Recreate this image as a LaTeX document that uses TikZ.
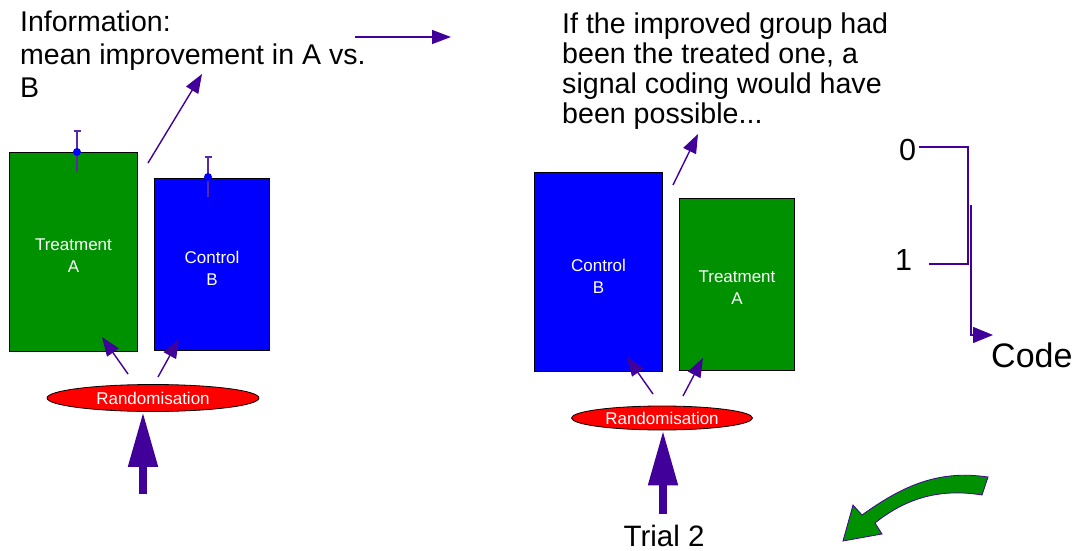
\documentclass[tikz,border=0pt]{standalone}
\usepackage{fontspec}
\setmainfont{Liberation Sans}
\usetikzlibrary{arrows.meta,shapes.geometric}
\definecolor{gA}{RGB}{0,145,0}
\definecolor{bB}{RGB}{0,0,255}
\definecolor{arr}{RGB}{64,0,153}
\definecolor{errc}{RGB}{90,40,170}
\definecolor{rR}{RGB}{255,0,0}
\begin{document}
\begin{tikzpicture}[x=1pt,y=-1pt,
  box/.style={draw=black,line width=1.5pt,inner sep=0pt},
  boxtext/.style={text=white,align=center,font=\fontsize{17}{22}\selectfont,inner sep=0pt},
  rand/.style={ellipse,draw=black,line width=0.8pt,fill=rR,text=white,
    font=\fontsize{17}{20}\selectfont,inner sep=0pt},
  big/.style={font=\fontsize{28.5}{30}\selectfont,inner sep=0pt},
  thin/.style={draw=arr,line width=1.4pt,-{Triangle[length=19pt,width=14pt]}},
  fat/.style={draw=arr,line width=8pt,-{Triangle[length=55pt,width=28pt]}},
  errbar/.style={draw=errc,line width=1.3pt},
  dot/.style={circle,fill=bB,inner sep=0pt,minimum size=8pt}]
\useasboundingbox (0,0) rectangle (1082,551);

% texts
\node[big,anchor=base west] (info) at (20,32) {Information:};
\node[big,anchor=base west] (mean) at (20,65) {mean improvement in A vs.};
\node[big,anchor=base west] (bl) at (20,97) {B};
\node[big,anchor=north west,align=left,font=\fontsize{28.6}{30}\selectfont] (iff) at (562,12.5)
  {If the improved group had\\been the treated one, a\\signal coding would have\\been possible...};

% left boxes
\node[box,fill=gA,minimum width=128pt,minimum height=199pt] (lA) at (73.5,252) {};
\node[boxtext] (lAt) at ([yshift=-4pt]lA.center) {Treatment\\A};
\node[box,fill=bB,minimum width=115pt,minimum height=172pt] (lB) at (212,264.5) {};
\node[boxtext] (lBt) at ([yshift=-3.5pt]lB.center) {Control\\B};
\node[rand,minimum width=212pt,minimum height=27pt] (lR) at (153,398) {Randomisation};

% right boxes
\node[box,fill=bB,minimum width=128pt,minimum height=199pt] (rB) at (598.5,272) {};
\node[boxtext] (rBt) at ([yshift=-4pt]rB.center) {Control\\B};
\node[box,fill=gA,minimum width=115pt,minimum height=172pt] (rA) at (737,284.5) {};
\node[boxtext] (rAt) at ([yshift=-3.5pt]rA.center) {Treatment\\A};
\node[rand,minimum width=181pt,minimum height=24pt] (rR) at (662,418) {Randomisation};

\node[big,anchor=base,font=\fontsize{29.5}{30}\selectfont] (trial) at (664,546) {Trial 2};

% error bars
\coordinate (eAt) at (77,131);
\coordinate (eAb) at (77,172);
\coordinate (eBt) at (208,157);
\coordinate (eBb) at (208,197);
\draw[errbar] (eAt) -- (eAb);
\draw[errbar] ([xshift=-3.5pt]eAt) -- ([xshift=3.5pt]eAt);
\draw[errbar] (eBt) -- (eBb);
\draw[errbar] ([xshift=-3.5pt]eBt) -- ([xshift=3.5pt]eBt);
\node[dot] (dA) at (77,152) {};
\node[dot] (dB) at (208,177) {};

% thin arrows
\coordinate (lr1) at (128,374);
\coordinate (lr1t) at (102,337);
\coordinate (lr2) at (158,377);
\coordinate (lr2t) at (179,339);
\draw[thin] (lr1) -- (lr1t);
\draw[thin] (lr2) -- (lr2t);
\coordinate (rr1) at (653,394);
\coordinate (rr1t) at (627,357);
\coordinate (rr2) at (683,396);
\coordinate (rr2t) at (703,358);
\draw[thin] (rr1) -- (rr1t);
\draw[thin] (rr2) -- (rr2t);
\coordinate (lu) at (148,163);
\coordinate (lut) at (202,74);
\draw[thin] (lu) -- (lut);
\coordinate (ru) at (673,185);
\coordinate (rut) at (698,134);
\draw[thin] (ru) -- (rut);
\coordinate (top1) at (355,37);
\coordinate (top2) at (451,37);
\draw[thin] (top1) -- (top2);

% big arrows
\coordinate (lbig) at (143,494);
\draw[fat] (lbig) -- (lbig |- lR.south);
\coordinate (rbig) at (663,514);
\draw[fat] (rbig) -- (rbig |- rR.south);

% code
\node[big,anchor=base west,font=\fontsize{30.5}{30}\selectfont] (c0) at (899,160) {0};
\node[big,anchor=base west,font=\fontsize{30.5}{30}\selectfont] (c1) at (895,270) {1};
\node[big,anchor=base west,font=\fontsize{34}{34}\selectfont] (code) at (991,367) {Code};
\coordinate (b0) at (968,147);
\coordinate (b1) at (968,264);
\draw[draw=arr,line width=1.4pt] ([xshift=3pt]c0.east |- b0) -- (b0) -- (b1) -- (929,264);
\coordinate (cv) at (971,205);
\coordinate (cb) at (971,335);
\coordinate (ce) at (993,335);
\draw[draw=arr,line width=1.4pt,-{Triangle[length=20pt,width=16pt]}] (cv) -- (cb) -- (ce);

% green curved arrow
\filldraw[fill=gA,draw=arr,line width=0.8pt]
  (843,541) -- (853,505) -- (862,515)
  .. controls (905,484) and (940,470) .. (988,477)
  -- (982,495)
  .. controls (945,489) and (910,495) .. (875,523)
  -- (882,534) -- cycle;
\end{tikzpicture}
\end{document}
